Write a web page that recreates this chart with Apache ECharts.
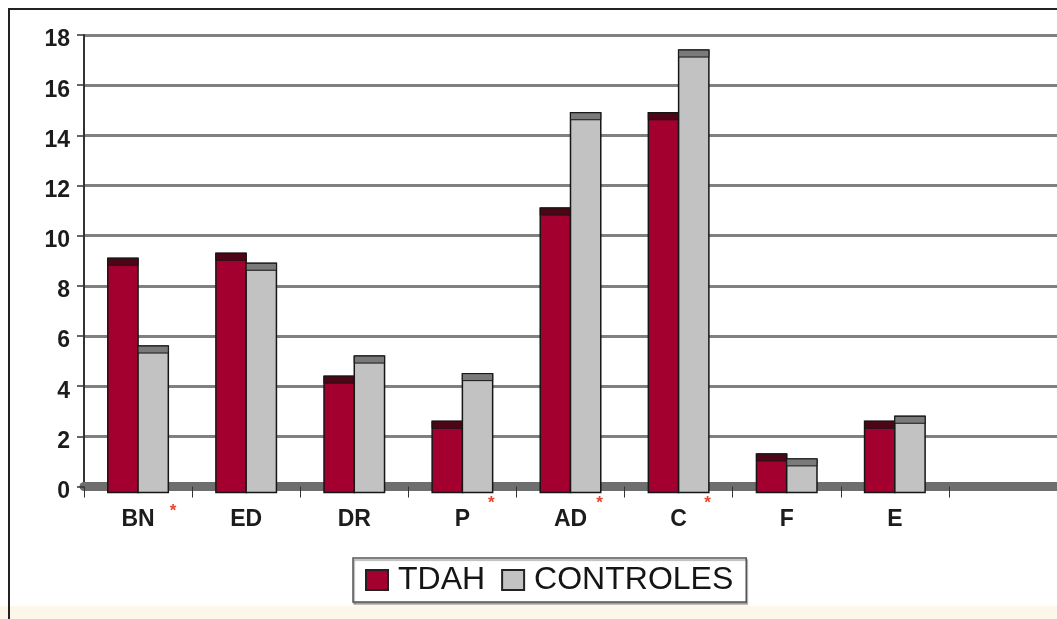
<!DOCTYPE html>
<html>
<head>
<meta charset="utf-8">
<script src="https://cdn.jsdelivr.net/npm/echarts@6/dist/echarts.min.js"></script>
<style>
  html, body { margin: 0; padding: 0; background: #ffffff; }
  #chart { width: 1057px; height: 619px; }
</style>
</head>
<body>
<div id="chart"></div>
<script>
// Categories (the last slot is an empty category that keeps the plot running to the edge)
const categories = ['BN', 'ED', 'DR', 'P', 'AD', 'C', 'F', 'E', ''];
// Mean scores per group
const tdah      = [9.1, 9.3, 4.4, 2.6, 11.1, 14.9, 1.3, 2.6];
const controles = [5.6, 8.9, 5.2, 4.5, 14.9, 17.4, 1.1, 2.8];
// Categories flagged with an asterisk (significant difference)
const significant = [true, false, false, true, true, true, false, false, false];
// Value axis
const yMin = 0, yMax = 18, yStep = 2;

const FONT = '"Liberation Sans", Arial, sans-serif';
const DEPTH = 6;          // pseudo-3D depth of the bars and floor
const BAR_RATIO = 0.28;   // each bar's width as a share of the category band

function makeBar(side, face, cap) {
  return function (params, api) {
    const i = api.value(0);
    const v = api.value(1);
    const topPt = api.coord([i, v]);
    const basePt = api.coord([i, 0]);
    const band = api.size([1, 0])[0];
    const w = band * BAR_RATIO;
    const x = side < 0 ? topPt[0] - w : topPt[0];
    const y0 = topPt[1];
    const y1 = basePt[1] + DEPTH;
    const capH = Math.min(DEPTH + 1, y1 - y0);
    return {
      type: 'group',
      children: [
        { type: 'rect', shape: { x: x, y: y0, width: w, height: y1 - y0 },
          style: { fill: face, stroke: '#161616', lineWidth: 1.5 } },
        { type: 'rect', shape: { x: x, y: y0, width: w, height: capH },
          style: { fill: cap, stroke: '#161616', lineWidth: 1 } }
      ]
    };
  };
}

const chart = echarts.init(document.getElementById('chart'));
chart.setOption({
  animation: false,
  backgroundColor: '#ffffff',
  graphic: [
    { type: 'rect', z: -10, shape: { x: 0, y: 606, width: 1057, height: 13 },
      style: { fill: '#fdf7ea' } },
    { type: 'polyline', z: -5, shape: { points: [[9, 619], [9, 9], [1057, 9]] },
      style: { fill: 'none', stroke: '#222222', lineWidth: 2 } }
  ],
  grid: { left: 84, right: -5, top: 35, bottom: 132.5, containLabel: false },
  legend: {
    left: 353, top: 558,
    padding: [5, 13, 5, 12],
    borderColor: '#555555', borderWidth: 1.5,
    shadowColor: 'rgba(0,0,0,0.35)', shadowOffsetY: 2, shadowOffsetX: 1, shadowBlur: 1,
    backgroundColor: '#ffffff',
    icon: 'rect', itemWidth: 22, itemHeight: 20, itemGap: 16,
    textStyle: { fontFamily: FONT, fontSize: 32, color: '#151515', lineHeight: 34, padding: [0, 0, 0, 5] },
    data: ['TDAH', 'CONTROLES']
  },
  xAxis: [
    {
      type: 'category', data: categories, boundaryGap: true,
      axisLine: { show: true, lineStyle: { color: '#6e6e6e', width: 9 } },
      axisTick: { show: true, length: 11, lineStyle: { color: '#333333', width: 1 } },
      splitLine: { show: false },
      axisLabel: { interval: 0, margin: 22, fontFamily: FONT, fontSize: 23, fontWeight: 'bold', color: '#1c1c1c' }
    },
    {
      type: 'category', data: categories, position: 'bottom',
      axisLine: { show: false }, axisTick: { show: false }, splitLine: { show: false },
      axisLabel: {
        interval: 0, margin: 8,
        formatter: function (val, idx) {
          if (!significant[idx]) return '';
          return idx === 0 ? '{sl|*}' : '{s|*}';
        },
        rich: {
          s:  { fontFamily: FONT, fontSize: 17, fontWeight: 'bold', color: '#e8452e', padding: [0, 0, 0, 58] },
          sl: { fontFamily: FONT, fontSize: 17, fontWeight: 'bold', color: '#e8452e', padding: [8, 0, 0, 70] }
        }
      }
    }
  ],
  yAxis: {
    type: 'value', min: yMin, max: yMax, interval: yStep,
    axisLine: { show: true, lineStyle: { color: '#333333', width: 2 } },
    axisTick: { show: true, length: 7, lineStyle: { color: '#333333', width: 1.5 } },
    splitLine: { show: true, lineStyle: { color: '#808080', width: 3 } },
    axisLabel: {
      margin: 14,
      formatter: function (val) { return '{v|' + val + '}'; },
      rich: { v: { fontFamily: FONT, fontSize: 23, fontWeight: 'bold', color: '#1c1c1c', padding: [10, 0, 0, 0] } }
    }
  },
  series: [
    {
      name: 'TDAH', type: 'custom', xAxisIndex: 0, yAxisIndex: 0,
      itemStyle: { color: '#a3002f', borderColor: '#222222', borderWidth: 1 },
      encode: { x: 0, y: 1 },
      renderItem: makeBar(-1, '#a3002f', '#4e0616'),
      data: tdah.map(function (v, i) { return [i, v]; })
    },
    {
      name: 'CONTROLES', type: 'custom', xAxisIndex: 0, yAxisIndex: 0,
      itemStyle: { color: '#c2c2c2', borderColor: '#222222', borderWidth: 1 },
      encode: { x: 0, y: 1 },
      renderItem: makeBar(1, '#c2c2c2', '#7a7a7a'),
      data: controles.map(function (v, i) { return [i, v]; })
    }
  ]
});
</script>
</body>
</html>
